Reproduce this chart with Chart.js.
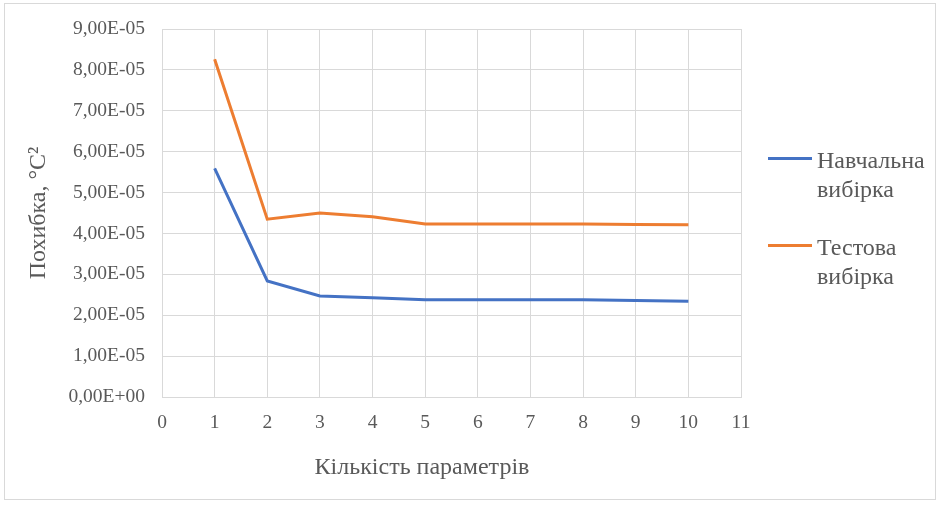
<!DOCTYPE html>
<html>
<head>
<meta charset="utf-8">
<script src="https://cdn.jsdelivr.net/npm/chart.js@4.4.1/dist/chart.umd.min.js"></script>
<style>
  html, body { margin: 0; padding: 0; background: #ffffff; }
  #wrap { position: relative; width: 941px; height: 505px; }
  #frame { position: absolute; left: 4px; top: 3px; width: 932px; height: 497px; border: 1px solid #d9d9d9; box-sizing: border-box; pointer-events: none; }
  canvas { position: absolute; left: 0; top: 0; }
  .serif { font-family: "Liberation Serif", "Times New Roman", serif; color: #595959; }
  #xtitle { position: absolute; left: 222px; width: 400px; top: 452px; text-align: center; font-size: 24px; line-height: 29px; white-space: nowrap; }
  .legend { position: absolute; left: 768px; top: 0; font-size: 24px; }
  .legend .item { position: absolute; left: 0; width: 170px; }
  .legend .swatch { position: absolute; left: 0; width: 44px; height: 3px; }
  .legend .txt { position: absolute; left: 49px; line-height: 29px; white-space: nowrap; }
</style>
</head>
<body>
<div id="wrap">
  <canvas id="chart" width="941" height="505"></canvas>
  <div id="frame"></div>
  <div id="xtitle" class="serif"></div>
  <div class="legend serif" id="legend"></div>
</div>
<script>
// Number of parameters (x) and mean squared error for each sample
const paramCounts = [1, 2, 3, 4, 5, 6, 7, 8, 9, 10];
const trainError = [5.59e-5, 2.84e-5, 2.47e-5, 2.43e-5, 2.38e-5, 2.38e-5, 2.38e-5, 2.38e-5, 2.36e-5, 2.34e-5];
const testError  = [8.26e-5, 4.35e-5, 4.50e-5, 4.41e-5, 4.23e-5, 4.23e-5, 4.23e-5, 4.23e-5, 4.22e-5, 4.21e-5];
const seriesNames = [["Навчальна", "вибірка"], ["Тестова", "вибірка"]];
const seriesColors = ["#4472C4", "#ED7D31"];
const xTitle = "Кількість параметрів";
const yTitle = "Похибка, °C²";

const FONT = '"Liberation Serif", "Times New Roman", serif';
const GRAY = "#595959";
const GRID = "#d9d9d9";

function sciLabel(v) {
  if (Math.abs(v) < 1e-12) return "0,00E+00";
  const s = v.toExponential(2);           // e.g. "9.00e-5"
  const [m, e] = s.split("e");
  const exp = parseInt(e, 10);
  const sign = exp < 0 ? "-" : "+";
  const digits = String(Math.abs(exp)).padStart(2, "0");
  return m.replace(".", ",") + "E" + sign + digits;
}

const toPoints = arr => paramCounts.map((x, i) => ({ x: x, y: arr[i] }));

new Chart(document.getElementById("chart"), {
  type: "line",
  data: {
    datasets: [
      { label: seriesNames[0].join(" "), data: toPoints(trainError), borderColor: seriesColors[0], backgroundColor: seriesColors[0], borderWidth: 3, pointRadius: 0, tension: 0, fill: false },
      { label: seriesNames[1].join(" "), data: toPoints(testError),  borderColor: seriesColors[1], backgroundColor: seriesColors[1], borderWidth: 3, pointRadius: 0, tension: 0, fill: false }
    ]
  },
  options: {
    responsive: false,
    animation: false,
    devicePixelRatio: 1,
    layout: { padding: { left: 10, right: 200, top: 29, bottom: 0 } },
    plugins: { legend: { display: false }, tooltip: { enabled: false } },
    scales: {
      x: {
        type: "linear",
        min: 0, max: 11,
        ticks: { stepSize: 1, color: GRAY, font: { family: FONT, size: 19.5 }, padding: 14 },
        grid: { color: GRID, lineWidth: 1, drawTicks: false },
        border: { color: GRID, width: 1 },
        title: { display: false },
        afterFit: s => { s.height = 108; }
      },
      y: {
        type: "linear",
        min: 0, max: 9e-5,
        ticks: { stepSize: 1e-5, color: GRAY, font: { family: FONT, size: 19.5 }, padding: 17, callback: v => sciLabel(v) },
        grid: { color: GRID, lineWidth: 1, drawTicks: false },
        border: { color: GRID, width: 1 },
        title: { display: true, text: yTitle, color: GRAY, font: { family: FONT, size: 24 }, padding: { top: 14, bottom: 0 } },
        afterFit: s => { s.width = 152; }
      }
    }
  }
});

// Horizontal axis title, centred under the chart body
document.getElementById("xtitle").textContent = xTitle;

// Legend at the right, two-line labels
const legend = document.getElementById("legend");
const tops = [145.5, 232.5];
seriesNames.forEach((lines, i) => {
  const item = document.createElement("div");
  item.className = "item";
  item.style.top = tops[i] + "px";
  const sw = document.createElement("div");
  sw.className = "swatch";
  sw.style.background = seriesColors[i];
  sw.style.top = "11px";
  const tx = document.createElement("div");
  tx.className = "txt";
  tx.style.top = "0px";
  tx.innerHTML = lines.join("<br>");
  item.appendChild(sw);
  item.appendChild(tx);
  legend.appendChild(item);
});
</script>
</body>
</html>
